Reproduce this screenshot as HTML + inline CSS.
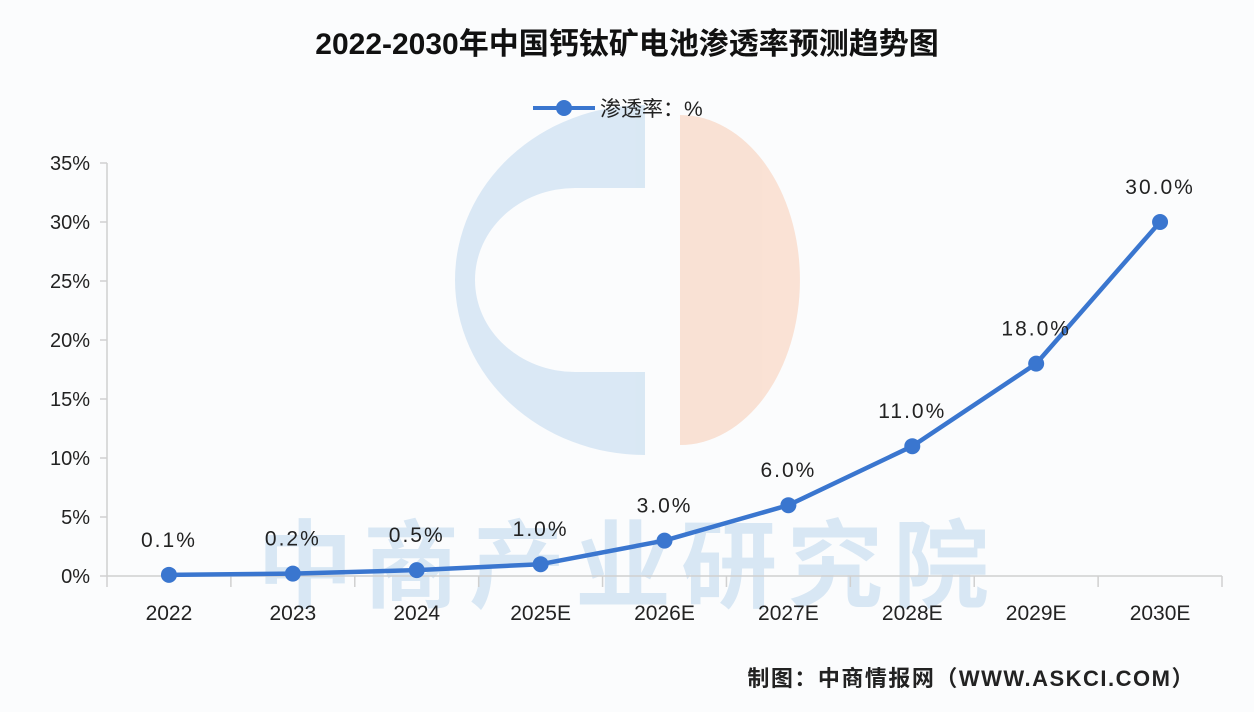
<!DOCTYPE html>
<html><head><meta charset="utf-8">
<style>
body{margin:0;background:#fff;}
svg{display:block;}
text{font-family:"Liberation Sans","Noto Sans CJK SC",sans-serif;}
</style></head>
<body>
<svg id="c" width="1254" height="712" viewBox="0 0 1254 712">
  <rect width="1254" height="712" fill="#fbfcfd"/>
  <g opacity="0.9">
    <path d="M645 105 A190 175 0 0 0 645 455 L645 372 L575 372 A100 92 0 0 1 575 188 L645 188 Z" fill="#d6e6f4"/>
    <path d="M680 115 A120 165 0 0 1 680 445 Z" fill="#f9dfd0"/>
  </g>
  <text x="628" y="600" text-anchor="middle" font-size="96" font-weight="bold" fill="#d8e7f4" letter-spacing="10">中商产业研究院</text>
  <text x="627" y="54" text-anchor="middle" font-size="30" font-weight="bold" fill="#111">2022-2030年中国钙钛矿电池渗透率预测趋势图</text>
  <g>
    <line x1="533" y1="108" x2="595" y2="108" stroke="#3a76cf" stroke-width="4"/>
    <circle cx="564" cy="108" r="8" fill="#3a76cf"/>
    <text x="600" y="116" font-size="21" fill="#222">渗透率：%</text>
  </g>
  <g id="axes"></g>
  <g id="marks"></g>
  <text x="1195" y="686" text-anchor="end" font-size="22" font-weight="bold" fill="#222" letter-spacing="1.5">制图：中商情报网（WWW.ASKCI.COM）</text>
</svg>
<script>
const categories=["2022","2023","2024","2025E","2026E","2027E","2028E","2029E","2030E"];
const values=[0.1,0.2,0.5,1.0,3.0,6.0,11.0,18.0,30.0];
const valueLabels=["0.1%","0.2%","0.5%","1.0%","3.0%","6.0%","11.0%","18.0%","30.0%"];
const yTicks=[0,5,10,15,20,25,30,35];
const yTickLabels=["0%","5%","10%","15%","20%","25%","30%","35%"];
const NS="http://www.w3.org/2000/svg";
const x0=107,x1=1222,yBase=576,yTop=163,yMax=35;
const band=(x1-x0)/categories.length;
const xs=i=>x0+band*(i+0.5);
const ys=v=>yBase-(v/yMax)*(yBase-yTop);
function mk(tag,attrs,parent){const e=document.createElementNS(NS,tag);for(const k in attrs)e.setAttribute(k,attrs[k]);parent.appendChild(e);return e;}
const axes=document.getElementById('axes'),marks=document.getElementById('marks');
let l=mk('line',{x1:x0,y1:yTop,x2:x0,y2:yBase,stroke:'#d0d0d0','stroke-width':1.5},axes);


l=mk('line',{x1:x0,y1:yBase,x2:x1,y2:yBase,stroke:'#d0d0d0','stroke-width':1.5},axes);


yTicks.forEach((v,i)=>{
  const t=mk('line',{x1:x0-7,y1:ys(v),x2:x0,y2:ys(v),stroke:'#d0d0d0','stroke-width':1.5},axes);
  
  
  const tx=mk('text',{x:x0-17,y:ys(v)+7,'text-anchor':'end','font-size':20,fill:'#222','font-family':'Liberation Mono, monospace'},axes);
  tx.textContent=yTickLabels[i];
  
  
});
for(let i=0;i<=categories.length;i++){
  const t=mk('line',{x1:x0+band*i,y1:yBase,x2:x0+band*i,y2:yBase+11,stroke:'#d0d0d0','stroke-width':1.5},axes);
  
  
}
categories.forEach((c,i)=>{
  const tx=mk('text',{x:xs(i),y:620,'text-anchor':'middle','font-size':21,fill:'#222'},axes);
  tx.textContent=c;
  
  
});
let d=values.map((v,i)=>(i?'L':'M')+xs(i)+' '+ys(v)).join(' ');
const p=mk('path',{d:d,fill:'none',stroke:'#3a76cf','stroke-width':4.5,'stroke-linejoin':'round'},marks);


values.forEach((v,i)=>{
  const c=mk('circle',{cx:xs(i),cy:ys(v),r:8,fill:'#3a76cf'},marks);
  
  
  const tx=mk('text',{x:xs(i),y:ys(v)-28,'text-anchor':'middle','font-size':21,fill:'#222','font-family':'Liberation Mono, monospace','letter-spacing':'2'},marks);
  tx.textContent=valueLabels[i];
  
  
});
</script>
</body></html>
